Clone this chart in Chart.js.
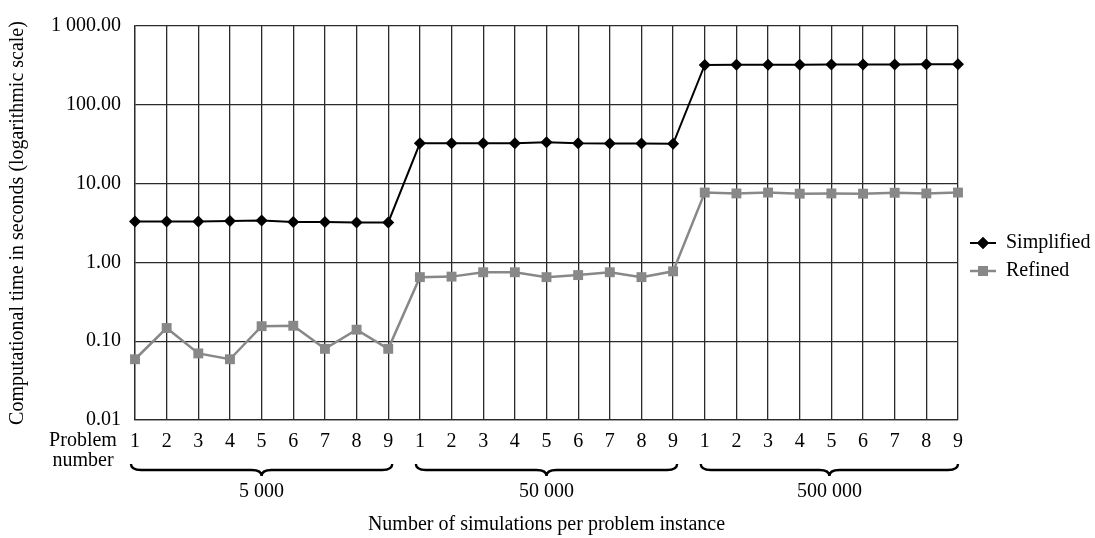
<!DOCTYPE html>
<html>
<head>
<meta charset="utf-8">
<script src="https://cdn.jsdelivr.net/npm/chart.js@4.4.0/dist/chart.umd.min.js"></script>
<style>
html, body { margin: 0; padding: 0; background: #fff; }
</style>
</head>
<body>
<canvas id="chart" width="1095" height="538"></canvas>
<script>
// problem numbers, 9 per simulation group
var problemNumbers = ["1","2","3","4","5","6","7","8","9",
                      "1","2","3","4","5","6","7","8","9",
                      "1","2","3","4","5","6","7","8","9"];
var groupLabels = ["5 000", "50 000", "500 000"];

var simplified = [3.30, 3.30, 3.30, 3.35, 3.40, 3.25, 3.25, 3.22, 3.22,
                  32.5, 32.5, 32.5, 32.5, 33.5, 32.5, 32.3, 32.3, 32.0,
                  320, 322, 322, 323, 324, 325, 325, 326, 326];
var refined = [0.059, 0.147, 0.070, 0.059, 0.155, 0.157, 0.080, 0.140, 0.080,
               0.65, 0.66, 0.75, 0.75, 0.65, 0.69, 0.75, 0.65, 0.77,
               7.7, 7.5, 7.7, 7.45, 7.5, 7.45, 7.65, 7.5, 7.7];

var yTickValues = [0.01, 0.1, 1, 10, 100, 1000];
var yTickLabels = ["0.01", "0.10", "1.00", "10.00", "100.00", "1 000.00"];

var FONT_FAMILY = "'Liberation Serif', 'DejaVu Serif', serif";
var FONT_SIZE = 20;
var GRID = "#2a2a2a";

function drawBrace(ctx, x1, x2, y0, h) {
    var mid = (x1 + x2) / 2;
    var r = 10;
    var ym = y0 + h / 2;
    ctx.beginPath();
    ctx.moveTo(x1, y0);
    ctx.quadraticCurveTo(x1, ym, x1 + r, ym);
    ctx.lineTo(mid - r, ym);
    ctx.quadraticCurveTo(mid, ym, mid, y0 + h);
    ctx.quadraticCurveTo(mid, ym, mid + r, ym);
    ctx.lineTo(x2 - r, ym);
    ctx.quadraticCurveTo(x2, ym, x2, y0);
    ctx.stroke();
}

var extras = {
    id: "extras",
    afterDraw: function (chart) {
        var ctx = chart.ctx;
        var xs = chart.scales.x;
        ctx.save();
        ctx.font = FONT_SIZE + "px " + FONT_FAMILY;
        ctx.fillStyle = "#000";
        ctx.textAlign = "center";
        ctx.textBaseline = "middle";
        ctx.fillText("Problem", 83, 441);
        ctx.fillText("number", 83, 461);

        // braces under each group
        ctx.strokeStyle = "#000";
        ctx.lineWidth = 2.4;
        for (var g = 0; g < groupLabels.length; g++) {
            var a = xs.getPixelForValue(g * 9) - 4;
            var b = xs.getPixelForValue(g * 9 + 8) + 4;
            if (g == 2) b = xs.getPixelForValue(g * 9 + 8);
            drawBrace(ctx, a, b, 464, 12);
            ctx.fillText(groupLabels[g], (a + b) / 2, 492);
        }

        // legend
        var items = [
            { text: "Simplified", color: "#000", style: "rectRot", radius: 6, width: 2, y: 243 },
            { text: "Refined", color: "#888", style: "rect", radius: 7, width: 2.5, y: 271 }
        ];
        items.forEach(function (it) {
            ctx.strokeStyle = it.color;
            ctx.lineWidth = it.width;
            ctx.beginPath();
            ctx.moveTo(970, it.y);
            ctx.lineTo(996, it.y);
            ctx.stroke();
            ctx.fillStyle = it.color;
            Chart.helpers.drawPoint(ctx, { pointStyle: it.style, radius: it.radius, rotation: 0, borderWidth: 0 }, 983, it.y);
            ctx.fill();
            ctx.fillStyle = "#000";
            ctx.textAlign = "left";
            ctx.fillText(it.text, 1006, it.y);
        });
        ctx.restore();
    }
};

var ctx = document.getElementById("chart").getContext("2d");
var chart = new Chart(ctx, {
    type: "line",
    data: {
        labels: problemNumbers,
        datasets: [{
            label: "Simplified",
            data: simplified,
            borderColor: "#000",
            backgroundColor: "#000",
            borderWidth: 2,
            pointStyle: "rectRot",
            pointRadius: 6,
            pointBorderWidth: 0,
            tension: 0
        }, {
            label: "Refined",
            data: refined,
            borderColor: "#888",
            backgroundColor: "#888",
            borderWidth: 2.5,
            pointStyle: "rect",
            pointRadius: 7,
            pointBorderWidth: 0,
            tension: 0
        }]
    },
    options: {
        responsive: false,
        animation: false,
        layout: { padding: { top: 25, right: 137, left: 0, bottom: 0 } },
        plugins: {
            legend: { display: false },
            tooltip: { enabled: false }
        },
        scales: {
            x: {
                grid: { color: GRID, lineWidth: 1.3, drawTicks: false },
                border: { color: GRID, width: 1.3 },
                ticks: {
                    color: "#000",
                    padding: 10,
                    autoSkip: false,
                    maxRotation: 0,
                    font: { family: FONT_FAMILY, size: FONT_SIZE }
                },
                title: {
                    display: true,
                    text: "Number of simulations per problem instance",
                    color: "#000",
                    padding: { top: 0, bottom: 1 },
                    font: { family: FONT_FAMILY, size: FONT_SIZE }
                },
                afterFit: function (scale) { scale.height = 118; }
            },
            y: {
                type: "logarithmic",
                min: 0.01,
                max: 1000,
                grid: { color: GRID, lineWidth: 1.3, drawTicks: false },
                border: { color: GRID, width: 1.3 },
                afterBuildTicks: function (scale) {
                    scale.ticks = yTickValues.map(function (v) { return { value: v, major: true }; });
                },
                ticks: {
                    color: "#000",
                    padding: 14,
                    font: { family: FONT_FAMILY, size: FONT_SIZE },
                    callback: function (value) {
                        var i = yTickValues.indexOf(value);
                        return i >= 0 ? yTickLabels[i] : "";
                    }
                },
                title: {
                    display: true,
                    text: "Computational time in seconds (logarithmic scale)",
                    color: "#000",
                    padding: { top: 6, bottom: 0 },
                    font: { family: FONT_FAMILY, size: FONT_SIZE }
                },
                afterFit: function (scale) { scale.width = 135; }
            }
        }
    },
    plugins: [extras]
});
</script>
</body>
</html>
